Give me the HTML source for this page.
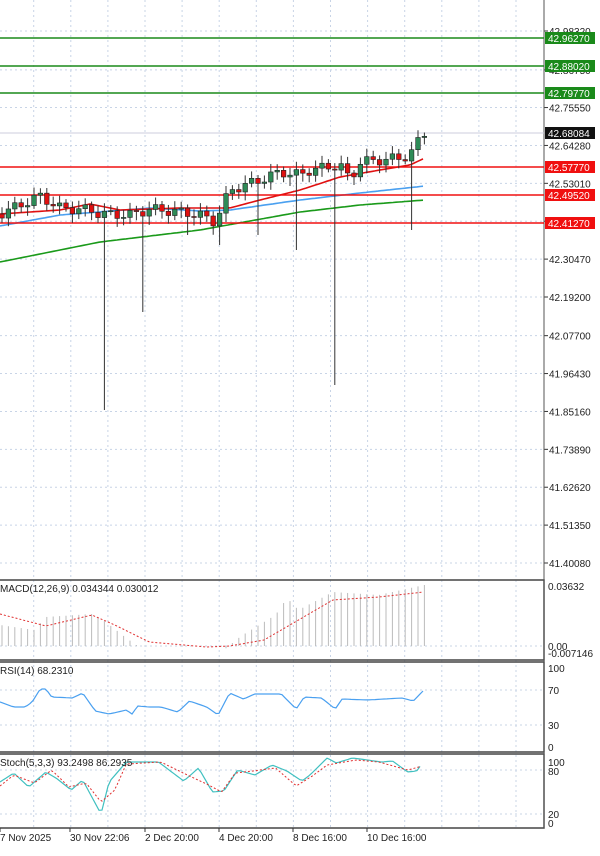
<!DOCTYPE html><html><head><meta charset="utf-8"><style>
body{margin:0;background:#fff;width:600px;height:851px;overflow:hidden;font-family:"Liberation Sans",sans-serif}
svg text{font-family:"Liberation Sans",sans-serif;font-size:10px;fill:#222}
</style></head><body>
<svg id="s" width="600" height="851" xmlns="http://www.w3.org/2000/svg"></svg>
<script>
const S=document.getElementById('s');let h='';
function Y(p){return 31+(42.9832-p)*336.2;}
for(let i=0;i<15;i++){let x=33.7+i*37.1;if(x<544)h+=`<line x1="${x}" y1="0" x2="${x}" y2="828" stroke="#c8d4e6" stroke-dasharray="2,3"/>`;}
const ticks=[42.9832,42.8675,42.7555,42.6428,42.5301,42.4174,42.3047,42.1920,42.0770,41.9643,41.8516,41.7389,41.6262,41.5135,41.4008];
ticks.forEach(p=>{let y=Y(p);h+=`<line x1="0" y1="${y}" x2="544" y2="${y}" stroke="#c8d4e6" stroke-dasharray="2,3"/><line x1="544" y1="${y}" x2="548" y2="${y}" stroke="#333"/><text x="549" y="${y+4}">${p.toFixed(5)}</text>`;});
[[580,660],[662,752],[754,828]].forEach(([a,b])=>{h+=`<rect x="-2" y="${a}" width="546" height="${b-a}" fill="none" stroke="#444" stroke-width="1.5"/>`;});
h+=`<line x1="544" y1="0" x2="544" y2="828" stroke="#555"/>`;
[690,725,770,814,646].forEach(y=>h+=`<line x1="0" y1="${y}" x2="544" y2="${y}" stroke="#c8d4e6" stroke-dasharray="2,3"/>`);
function interp(pts,x){for(let i=0;i<pts.length-1;i++){if(x<=pts[i+1][0]){let [x0,y0]=pts[i],[x1,y1]=pts[i+1];return y0+(y1-y0)*(x-x0)/(x1-x0);}}return pts[pts.length-1][1];}
function sc(pts){return pts.map(([x,y])=>[Math.min(424,x*1.148),y]);}
function line(pts,c,w,d){let s='';for(let x=pts[0][0];x<=pts[pts.length-1][0];x+=3)s+=`${x.toFixed(1)},${interp(pts,x).toFixed(1)} `;return `<polyline points="${s}" fill="none" stroke="${c}" stroke-width="${w}" ${d?'stroke-dasharray="'+d+'"':''}/>`;}
h+=line([[0,262],[100,242],[200,230],[300,212],[360,205],[425,200]],'#1a9a1a',1.6);
h+=line([[0,226],[60,215],[150,208],[200,211],[230,210],[300,200],[360,193],[425,186]],'#4aa0f0',1.6);
h+=line([[0,214],[60,210],[90,204],[120,210],[180,208],[230,208],[260,200],[300,190],[340,177],[380,170],[410,165],[425,158]],'#e01010',1.6);
[[38,'#1a8a1a','42.96270'],[66,'#1a8a1a','42.88020'],[93,'#1a8a1a','42.79770'],[167,'#f01010','42.57770'],[195,'#f01010','42.49520'],[223,'#f01010','42.41270']].forEach(([y,c,t])=>{h+=`<line x1="0" y1="${y}" x2="544" y2="${y}" stroke="${c}" stroke-width="1.6"/><rect x="545" y="${y-6}" width="50" height="12" fill="${c}"/><text x="548" y="${y+4}" style="fill:#fff">${t}</text>`;});
h+=`<line x1="0" y1="133" x2="544" y2="133" stroke="#ccd" /><rect x="545" y="127" width="50" height="12" fill="#111"/><text x="548" y="137" style="fill:#fff">42.68084</text>`;
const C=[[0,214],[40,196],[60,208],[90,210],[100,214],[130,215],[150,209],[180,212],[200,215],[215,222],[230,190],[260,180],[280,172],[300,175],[310,170],[340,165],[350,180],[360,162],[400,158],[410,155],[420,138],[425,132]];
const longW={107:410,143:312,298:250,335:385,411:230,255:235,221:245,186:235};
let prev=214,k=0;
for(let x=2;x<=425;x+=6.4){k++;let c=interp(C,x)+Math.sin(k*1.7)*5;let o=prev;let up=c<o;let top=Math.min(o,c)-3-Math.abs(Math.sin(k*2.3))*5,bot=Math.max(o,c)+3+Math.abs(Math.cos(k*1.3))*6;
for(const kx in longW){if(Math.abs(x-kx)<3.2)bot=longW[kx];}
h+=`<line x1="${x}" y1="${top}" x2="${x}" y2="${bot}" stroke="#333"/><rect x="${x-2.3}" y="${Math.min(o,c)}" width="4.6" height="${Math.max(1,Math.abs(o-c))}" fill="${up?'#2e8b57':'#e01010'}" stroke="#222" stroke-width=".6"/>`;prev=c;}
const mh=sc([[0,625],[30,630],[40,617],[80,614],[90,620],[110,638],[120,646],[190,646],[195,650],[210,636],[240,615],[250,598],[260,610],[290,592],[330,595],[425,585]]);
for(let x=2;x<=425;x+=6.4){let y=interp(mh,x);h+=`<line x1="${x}" y1="646" x2="${x}" y2="${y}" stroke="#bbb"/>`;}
h+=line(sc([[0,614],[40,626],[80,615],[100,625],[130,642],[180,647],[200,646],[230,640],[260,620],[290,600],[330,597],[390,592],[425,592]]),'#e03030',1,'2,2');
h+=`<text x="0" y="592">MACD(12,26,9) 0.034344 0.030012</text><text x="548" y="590">0.03632</text><text x="548" y="650">0.00</text><text x="548" y="657">-0.007146</text>`;
h+=line(sc([[0,702],[12,707],[22,707],[28,702],[35,689],[40,689],[45,697],[63,698],[72,693],[83,711],[95,714],[110,710],[115,714],[120,706],[130,707],[140,707],[155,712],[165,701],[180,707],[190,715],[200,693],[212,699],[222,694],[232,694],[245,694],[258,709],[265,697],[280,698],[292,709],[298,699],[320,700],[350,698],[360,701],[375,690],[420,690]]),'#4aa0f0',1.2);
h+=`<text x="0" y="674">RSI(14) 68.2310</text><text x="548" y="672">100</text><text x="548" y="694">70</text><text x="548" y="729">30</text><text x="548" y="751">0</text>`;
h+=line(sc([[0,782],[12,773],[25,787],[40,772],[50,779],[62,790],[72,780],[80,797],[88,814],[95,782],[110,762],[138,762],[160,781],[173,768],[185,792],[195,791],[207,770],[222,775],[237,765],[250,771],[263,781],[270,775],[285,758],[293,763],[307,758],[320,760],[332,762],[342,761],[355,772],[363,771],[368,763]]),'#40c0c0',1.2);
h+=line(sc([[0,786],[12,775],[30,783],[45,770],[60,787],[75,783],[88,802],[100,790],[110,764],[140,762],[165,776],[180,784],[193,792],[205,773],[220,771],[240,768],[258,786],[272,776],[285,765],[310,760],[330,762],[355,770],[368,766]]),'#e03030',1,'2,2');
h+=`<text x="0" y="766">Stoch(5,3,3) 93.2498 86.2935</text><text x="548" y="766">100</text><text x="548" y="775">80</text><text x="548" y="818">20</text><text x="548" y="827">0</text>`;
[[0,'7 Nov 2025'],[70,'30 Nov 22:06'],[145,'2 Dec 20:00'],[219,'4 Dec 20:00'],[293,'8 Dec 16:00'],[367,'10 Dec 16:00']].forEach(([x,t])=>{h+=`<line x1="${x}" y1="828" x2="${x}" y2="832" stroke="#333"/><text x="${x}" y="841">${t}</text>`;});
S.innerHTML=h;
</script></body></html>
